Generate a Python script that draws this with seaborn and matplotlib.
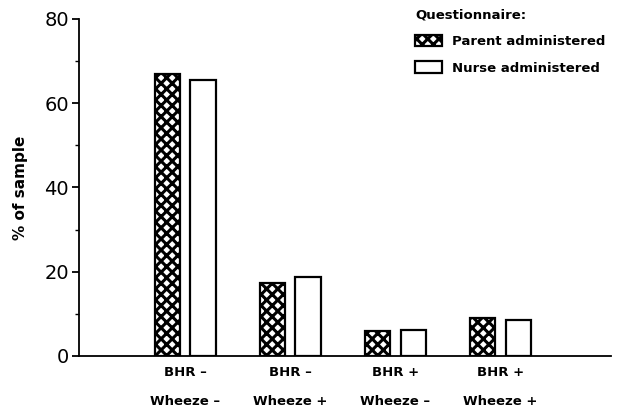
import pandas as pd
import numpy as np
import matplotlib
matplotlib.use('Agg')
import matplotlib.pyplot as plt
import seaborn as sns
from matplotlib.ticker import MultipleLocator

# values
groups = ['BHR \u2013\nWheeze \u2013', 'BHR \u2013\nWheeze +',
          'BHR +\nWheeze \u2013', 'BHR +\nWheeze +']
parent = [67.0, 17.4, 5.9, 9.0]
nurse = [65.6, 18.8, 6.2, 8.6]
series = ['Parent administered', 'Nurse administered']

sns.set_style('ticks')
plt.rcParams['font.family'] = ['DejaVu Sans']
plt.rcParams['hatch.linewidth'] = 2.2
for k in ['text.color', 'axes.labelcolor', 'xtick.color', 'ytick.color', 'axes.edgecolor']:
    plt.rcParams[k] = 'black'

df = pd.DataFrame({
    'group': groups * 2,
    'pct': parent + nurse,
    'Questionnaire': [series[0]] * 4 + [series[1]] * 4,
})

fig = plt.figure(figsize=(6.26, 4.11), dpi=100)
ax = fig.add_axes([0.126, 0.134, 0.85, 0.82])

sns.barplot(data=df, x='group', y='pct', hue='Questionnaire',
            order=groups, hue_order=series, width=0.68, gap=0.29,
            palette=['white', 'white'], edgecolor='black', linewidth=1.6,
            ax=ax)

# hatch the parent bars
for bar in ax.containers[0]:
    bar.set_hatch('xxx')

ax.set_xlim(-1.01, 4.05)
ax.set_ylim(0, 80)
ax.yaxis.set_major_locator(MultipleLocator(20))
ax.yaxis.set_minor_locator(MultipleLocator(10))
ax.tick_params(axis='y', which='major', length=5, width=1.3, labelsize=14, pad=2)
ax.tick_params(axis='y', which='minor', length=3, width=1.0)
ax.tick_params(axis='x', length=0, labelsize=9.5, pad=7)
for lab in ax.get_xticklabels():
    lab.set_fontweight('bold')
    lab.set_linespacing(2.6)
ax.set_xlabel('')
ax.set_ylabel('% of sample', fontsize=11, fontweight='bold', labelpad=12)
sns.despine(ax=ax)
ax.spines['left'].set_linewidth(1.3)
ax.spines['bottom'].set_linewidth(1.3)

# legend styled like the original
leg = ax.legend(title='Questionnaire:', loc='upper left',
                bbox_to_anchor=(0.632, 1.03), frameon=False,
                borderpad=0, borderaxespad=0,
                fontsize=9.5, title_fontsize=9.5, handlelength=2.0,
                handleheight=0.95, handletextpad=0.8, labelspacing=1.0,
                alignment='left')
leg.get_title().set_fontweight('bold')
for t in leg.get_texts():
    t.set_fontweight('bold')
leg.legend_handles[0].set_hatch('xxx')

fig.savefig('out.png', dpi=100)
